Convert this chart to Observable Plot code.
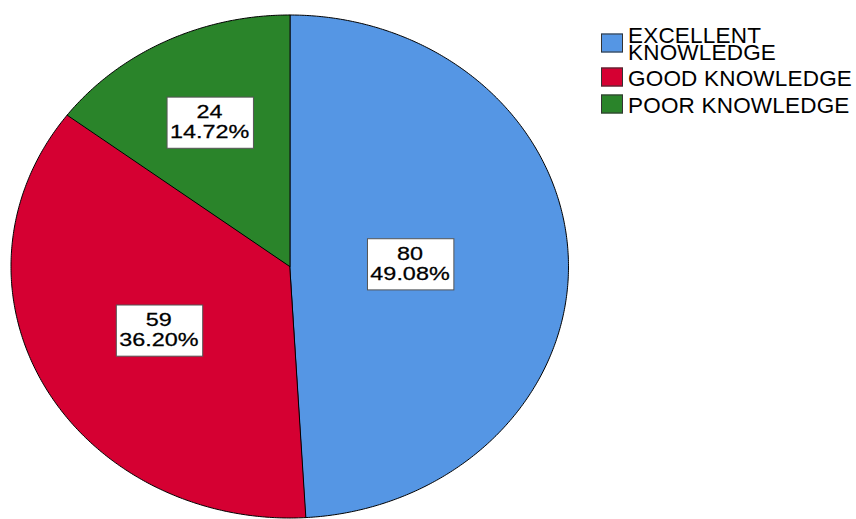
<!DOCTYPE html>
<html><head><meta charset="utf-8">
<script src="https://cdn.jsdelivr.net/npm/d3@7"></script>
<script src="https://cdn.jsdelivr.net/npm/@observablehq/plot@0.6"></script>
<style>
html,body{margin:0;padding:0;background:#fff;overflow:hidden}
#wrap{position:relative;width:856px;height:519px}
#wrap svg{position:absolute;left:0;top:0}
#legend{position:absolute;left:601px;top:27px;display:flex;flex-direction:column;gap:7.7px;font-family:"Liberation Sans",Arial,sans-serif;font-size:22.5px;letter-spacing:0.2px;line-height:17.3px;color:#000}
.item{display:flex;align-items:center}
.sw{width:20px;height:17px;border:1px solid #333;margin-right:5px;flex:none;transform:translateY(-1.5px)}
.lab{width:228px}
</style></head><body><div id="wrap"><div id="legend"></div></div>
<script>
const categories = ["EXCELLENT KNOWLEDGE", "GOOD KNOWLEDGE", "POOR KNOWLEDGE"];
const counts = [80, 59, 24];
const colors = ["#5596e4", "#d50032", "#2a842a"];

const total = d3.sum(counts);
const arcs = d3.pie().sort(null).value(d => d)(counts);

const pts = [];
arcs.forEach((a, i) => {
  const cat = categories[i];
  pts.push({cat, x: 0, y: 0});
  const n = Math.max(2, Math.ceil((a.endAngle - a.startAngle) / (Math.PI / 360)));
  for (let k = 0; k <= n; k++) {
    const t = a.startAngle + (a.endAngle - a.startAngle) * k / n;
    pts.push({cat, x: Math.sin(t), y: Math.cos(t)});
  }
});

const labels = arcs.map((a, i) => {
  const h = (a.endAngle - a.startAngle) / 2, m = a.startAngle + h;
  const r = 2 / 3 * Math.sin(h) / h;
  return {x: r * Math.sin(m), y: r * Math.cos(m),
          text: `${counts[i]}\n${(counts[i] / total * 100).toFixed(2)}%`};
});

const chart = Plot.plot({
  width: 856, height: 519, margin: 0,
  x: {domain: [-1, 1], range: [10.5, 568], axis: null},
  y: {domain: [-1, 1], range: [517.5, 14.5], axis: null},
  color: {domain: categories, range: colors},
  style: {fontFamily: '"Liberation Sans", Arial, sans-serif', background: "transparent", overflow: "visible"},
  marks: [
    Plot.line(pts, {x: "x", y: "y", z: "cat", fill: "cat", stroke: "#000", strokeWidth: 1, curve: "linear-closed"}),
    Plot.text(labels, {x: "x", y: "y", text: "text", fontSize: 18, lineHeight: 1.12, fill: "#000"})
  ]
});

const wrap = document.getElementById("wrap");
wrap.insertBefore(chart, wrap.firstChild);

const ns = "http://www.w3.org/2000/svg";
const svgRect = chart.getBoundingClientRect();
chart.querySelectorAll('g[aria-label="text"] text').forEach(t => {
  const r = t.getBoundingClientRect();
  const cx = r.x - svgRect.x + r.width / 2, cy = r.y - svgRect.y + r.height / 2;
  const g = document.createElementNS(ns, "g");
  g.setAttribute("transform", `translate(${cx},${cy}) scale(1.3,1) translate(${-cx},${-cy})`);
  t.parentNode.insertBefore(g, t);
  g.appendChild(t);
  t.setAttribute("stroke", "#000");
  t.setAttribute("stroke-width", 0.25);
  const w = r.width * 1.3 + 7, h = r.height + 11;
  const rect = document.createElementNS(ns, "rect");
  rect.setAttribute("x", cx - w / 2);
  rect.setAttribute("y", cy - h / 2);
  rect.setAttribute("width", w);
  rect.setAttribute("height", h);
  rect.setAttribute("fill", "#fff");
  rect.setAttribute("stroke", "#555");
  rect.setAttribute("stroke-width", 1);
  g.parentNode.insertBefore(rect, g);
});

const legend = d3.select("#legend");
categories.forEach((c, i) => {
  const item = legend.append("div").attr("class", "item");
  item.append("div").attr("class", "sw").style("background", colors[i]);
  item.append("div").attr("class", "lab").text(c);
});
</script>
</body></html>
